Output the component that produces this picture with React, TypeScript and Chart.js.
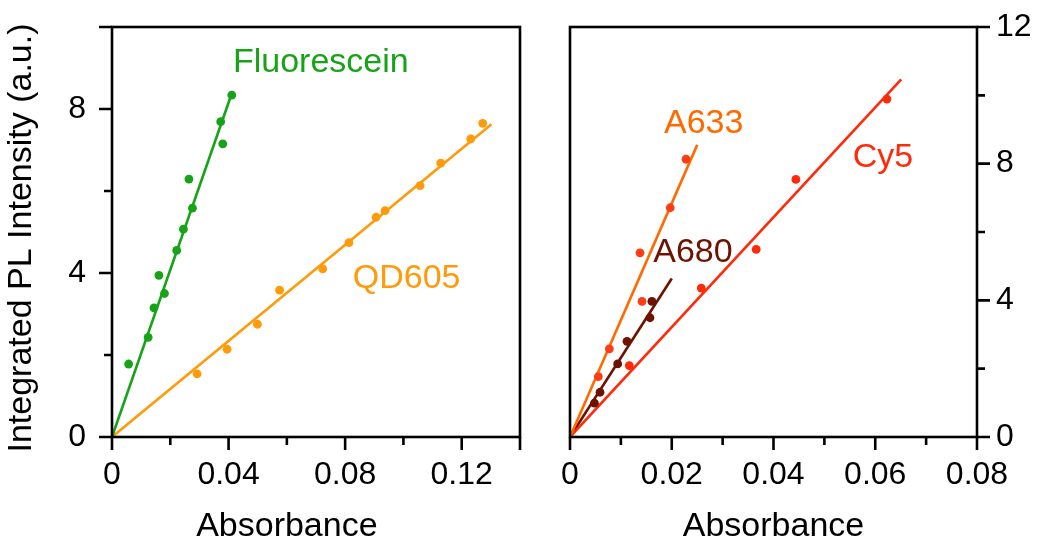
import { useEffect, useRef } from 'react';
import { Chart, registerables } from 'chart.js';

Chart.register(...registerables);

// ---- Left panel: Fluorescein and QD605 ----
const fluoresceinAbs = [0.0057, 0.0124, 0.0144, 0.0161, 0.018, 0.0222, 0.0245, 0.0264, 0.0276, 0.0373, 0.038, 0.0411];
const fluoresceinPL = [1.78, 2.43, 3.15, 3.94, 3.5, 4.55, 5.07, 6.29, 5.58, 7.69, 7.15, 8.34];
const fluoresceinFitAbs = [0, 0.041];
const fluoresceinFitPL = [0, 8.36];

const qd605Abs = [0.0292, 0.0395, 0.0499, 0.0575, 0.0723, 0.0813, 0.0906, 0.0937, 0.1057, 0.1128, 0.1231, 0.1272];
const qd605PL = [1.54, 2.14, 2.75, 3.58, 4.1, 4.74, 5.36, 5.52, 6.13, 6.68, 7.27, 7.65];
const qd605FitAbs = [0, 0.1302];
const qd605FitPL = [0, 7.63];

// ---- Right panel: A633, A680 and Cy5 ----
const a633Abs = [0.00557, 0.00773, 0.01415, 0.01376, 0.0197, 0.0228];
const a633PL = [1.77, 2.58, 3.97, 5.39, 6.71, 8.13];
const a633FitAbs = [0, 0.025];
const a633FitPL = [0, 8.55];

const a680Abs = [0.0048, 0.0059, 0.00937, 0.0112, 0.01572, 0.0161];
const a680PL = [0.99, 1.31, 2.14, 2.8, 3.49, 3.97];
const a680FitAbs = [0, 0.02];
const a680FitPL = [0, 4.64];

const cy5Abs = [0.01166, 0.0258, 0.0366, 0.0444, 0.0623];
const cy5PL = [2.09, 4.36, 5.49, 7.54, 9.89];
const cy5FitAbs = [0, 0.0651];
const cy5FitPL = [0, 10.47];

// ---- Axis ticks ----
const leftXTicks = [0, 0.02, 0.04, 0.06, 0.08, 0.1, 0.12, 0.14];
const leftXLabels = ['0', '', '0.04', '', '0.08', '', '0.12', ''];
const leftYTicks = [0, 2, 4, 6, 8, 10];
const leftYLabels = ['0', '', '4', '', '8', ''];

const rightXTicks = [0, 0.01, 0.02, 0.03, 0.04, 0.05, 0.06, 0.07, 0.08];
const rightXLabels = ['0', '', '0.02', '', '0.04', '', '0.06', '', '0.08'];
const rightYTicks = [0, 2, 4, 6, 8, 10, 12];
const rightYLabels = ['0', '', '4', '', '8', '', '12'];

const xTitle = 'Absorbance';
const yTitle = 'Integrated PL Intensity (a.u.)';

// ---- Colours ----
const GREEN = '#17a317';
const ORANGE = '#ff9a0a';
const A633_LINE = '#ff6a00';
const A633_DOT = '#ff3c14';
const CY5 = '#ff2a0a';
const A680 = '#6e1200';

const FAMILY = '"Liberation Sans", Arial, Helvetica, sans-serif';

type XY = { x: number; y: number };
const zip = (xs: number[], ys: number[]): XY[] => xs.map((x, i) => ({ x, y: ys[i] }));

function dots(xs: number[], ys: number[], color: string) {
  return {
    data: zip(xs, ys),
    showLine: false,
    pointRadius: 4.4,
    pointHoverRadius: 4.4,
    pointBorderWidth: 0,
    pointBackgroundColor: color,
    backgroundColor: color,
    borderColor: color,
    order: 0,
  };
}

function fit(xs: number[], ys: number[], color: string) {
  return {
    data: zip(xs, ys),
    showLine: true,
    pointRadius: 0,
    pointHoverRadius: 0,
    borderWidth: 2.6,
    borderColor: color,
    backgroundColor: color,
    fill: false,
    tension: 0,
    order: 1,
  };
}

type SeriesLabel = { text: string; x: number; y: number; color: string };
type PanelOpts = {
  xTicks: number[];
  xLabels: string[];
  yTicks: number[];
  yLabels: string[];
  ySide: 'left' | 'right';
  xTitleAt: number;
  yTitle?: string;
  labels: SeriesLabel[];
};

// Frame, tick marks, axis titles and series names
const panelPlugin = {
  id: 'panel',
  afterDatasetsDraw(chart: any, _args: any, opts: PanelOpts) {
    const { ctx, chartArea: a } = chart;
    const xs = chart.scales.x;
    const ys = chart.scales.y;
    ctx.save();
    ctx.strokeStyle = '#000';
    ctx.lineWidth = 2.6;
    ctx.strokeRect(a.left, a.top, a.right - a.left, a.bottom - a.top);

    ctx.beginPath();
    opts.xTicks.forEach((v, i) => {
      const px = xs.getPixelForValue(v);
      const len = opts.xLabels[i] || i === opts.xTicks.length - 1 ? 13 : 8;
      ctx.moveTo(px, a.bottom);
      ctx.lineTo(px, a.bottom + len);
    });
    opts.yTicks.forEach((v, i) => {
      const py = ys.getPixelForValue(v);
      const len = opts.yLabels[i] || i === opts.yTicks.length - 1 ? 13 : 8;
      if (opts.ySide === 'left') {
        ctx.moveTo(a.left, py);
        ctx.lineTo(a.left - len, py);
      } else {
        ctx.moveTo(a.right, py);
        ctx.lineTo(a.right + len, py);
      }
    });
    ctx.stroke();

    ctx.fillStyle = '#000';
    ctx.font = `34px ${FAMILY}`;
    ctx.textBaseline = 'alphabetic';
    ctx.textAlign = 'center';
    ctx.fillText(xTitle, xs.getPixelForValue(opts.xTitleAt), 536);

    if (opts.yTitle) {
      ctx.save();
      ctx.translate(31, (a.top + a.bottom) / 2 + 6);
      ctx.rotate(-Math.PI / 2);
      ctx.fillText(opts.yTitle, 0, 0);
      ctx.restore();
    }

    ctx.textAlign = 'left';
    opts.labels.forEach((l) => {
      ctx.fillStyle = l.color;
      ctx.fillText(l.text, xs.getPixelForValue(l.x), ys.getPixelForValue(l.y));
    });
    ctx.restore();
  },
};

const tickFont = { family: FAMILY, size: 32 };

function xScale(max: number, ticks: number[], labels: string[]) {
  return {
    type: 'linear',
    min: 0,
    max,
    afterBuildTicks: (s: any) => {
      s.ticks = ticks.map((v) => ({ value: v }));
    },
    afterFit: (s: any) => {
      s.height = 102;
      s.paddingLeft = 0;
      s.paddingRight = 0;
      s.paddingTop = 0;
      s.paddingBottom = 0;
    },
    grid: { display: false, drawTicks: false },
    border: { display: false },
    ticks: {
      autoSkip: false,
      maxRotation: 0,
      padding: 19,
      color: '#000',
      font: tickFont,
      callback: (_v: any, i: number) => labels[i],
    },
  };
}

function yScale(max: number, ticks: number[], labels: string[], position: 'left' | 'right', width: number, padding: number) {
  return {
    type: 'linear',
    position,
    min: 0,
    max,
    afterBuildTicks: (s: any) => {
      s.ticks = ticks.map((v) => ({ value: v }));
    },
    afterFit: (s: any) => {
      s.width = width;
      s.paddingLeft = 0;
      s.paddingRight = 0;
      s.paddingTop = 0;
      s.paddingBottom = 0;
    },
    grid: { display: false, drawTicks: false },
    border: { display: false },
    ticks: {
      autoSkip: false,
      padding,
      color: '#000',
      font: tickFont,
      callback: (_v: any, i: number) => labels[i],
    },
  };
}

function leftConfig(): any {
  return {
    type: 'scatter',
    data: {
      datasets: [
        dots(fluoresceinAbs, fluoresceinPL, GREEN),
        dots(qd605Abs, qd605PL, ORANGE),
        fit(fluoresceinFitAbs, fluoresceinFitPL, GREEN),
        fit(qd605FitAbs, qd605FitPL, ORANGE),
      ],
    },
    options: {
      animation: false,
      responsive: false,
      devicePixelRatio: 1,
      layout: { padding: { top: 27, right: 20, left: 0, bottom: 0 } },
      plugins: {
        legend: { display: false },
        tooltip: { enabled: false },
        panel: {
          xTicks: leftXTicks,
          xLabels: leftXLabels,
          yTicks: leftYTicks,
          yLabels: leftYLabels,
          ySide: 'left',
          xTitleAt: 0.06,
          yTitle,
          labels: [
            { text: 'Fluorescein', x: 0.0415, y: 8.9, color: GREEN },
            { text: 'QD605', x: 0.0826, y: 3.63, color: ORANGE },
          ],
        },
      },
      scales: {
        x: xScale(0.14, leftXTicks, leftXLabels),
        y: yScale(10, leftYTicks, leftYLabels, 'left', 112, 26),
      },
    },
    plugins: [panelPlugin],
  };
}

function rightConfig(): any {
  return {
    type: 'scatter',
    data: {
      datasets: [
        dots(a633Abs, a633PL, A633_DOT),
        dots(cy5Abs, cy5PL, CY5),
        dots(a680Abs, a680PL, A680),
        fit(a633FitAbs, a633FitPL, A633_LINE),
        fit(cy5FitAbs, cy5FitPL, CY5),
        fit(a680FitAbs, a680FitPL, A680),
      ],
    },
    options: {
      animation: false,
      responsive: false,
      devicePixelRatio: 1,
      layout: { padding: { top: 27, right: 0, left: 30, bottom: 0 } },
      plugins: {
        legend: { display: false },
        tooltip: { enabled: false },
        panel: {
          xTicks: rightXTicks,
          xLabels: rightXLabels,
          yTicks: rightYTicks,
          yLabels: rightYLabels,
          ySide: 'right',
          xTitleAt: 0.04,
          labels: [
            { text: 'A633', x: 0.01848, y: 8.905, color: A633_LINE },
            { text: 'Cy5', x: 0.05557, y: 7.91, color: CY5 },
            { text: 'A680', x: 0.01637, y: 5.13, color: A680 },
          ],
        },
      },
      scales: {
        x: xScale(0.08, rightXTicks, rightXLabels),
        y: yScale(12, rightYTicks, rightYLabels, 'right', 63, 19),
      },
    },
    plugins: [panelPlugin],
  };
}

export default function App() {
  const leftRef = useRef<HTMLCanvasElement>(null);
  const rightRef = useRef<HTMLCanvasElement>(null);

  useEffect(() => {
    const charts = [
      new Chart(leftRef.current as HTMLCanvasElement, leftConfig()),
      new Chart(rightRef.current as HTMLCanvasElement, rightConfig()),
    ];
    return () => charts.forEach((c) => c.destroy());
  }, []);

  return (
    <div
      style={{
        position: 'absolute',
        left: 0,
        top: 0,
        width: 1040,
        height: 539,
        background: '#fff',
        overflow: 'hidden',
      }}
    >
      <canvas
        ref={leftRef}
        width={540}
        height={539}
        style={{ position: 'absolute', left: 0, top: 0, width: 540, height: 539 }}
      />
      <canvas
        ref={rightRef}
        width={500}
        height={539}
        style={{ position: 'absolute', left: 540, top: 0, width: 500, height: 539 }}
      />
    </div>
  );
}
